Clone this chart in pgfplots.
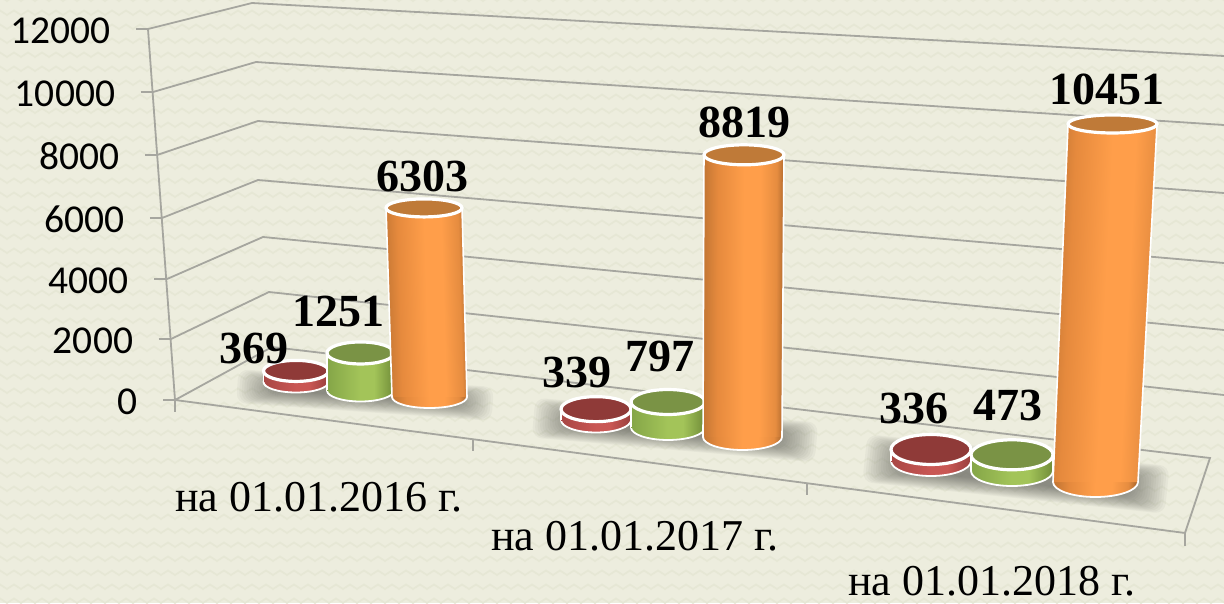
\documentclass[border=0pt]{standalone}
\usepackage{fontspec}
\setmainfont{Liberation Serif}
\newfontfamily\carl{Carlito}
\usepackage{pgfplots}
\pgfplotsset{compat=1.18}
\usetikzlibrary{shapes.geometric}

\definecolor{bgc}{HTML}{EDEDDE}
\definecolor{zig}{HTML}{E6E7D5}
\definecolor{gridc}{HTML}{A6A69F}
\definecolor{orangetop}{HTML}{BF7A38}
\definecolor{greentop}{HTML}{7A9345}
\definecolor{redtop}{HTML}{8F3A38}

\pgfdeclarehorizontalshading{orangecyl}{100bp}{rgb(0bp)=(0.76,0.46,0.20); rgb(25bp)=(0.76,0.46,0.20); rgb(34bp)=(0.90,0.54,0.24); rgb(50bp)=(1.0,0.62,0.29); rgb(60bp)=(1.0,0.62,0.29); rgb(70bp)=(0.90,0.55,0.25); rgb(75bp)=(0.68,0.41,0.18); rgb(100bp)=(0.68,0.41,0.18)}
\pgfdeclarehorizontalshading{greencyl}{100bp}{rgb(0bp)=(0.52,0.65,0.28); rgb(25bp)=(0.52,0.65,0.28); rgb(50bp)=(0.64,0.77,0.35); rgb(60bp)=(0.64,0.77,0.35); rgb(75bp)=(0.44,0.55,0.22); rgb(100bp)=(0.44,0.55,0.22)}
\pgfdeclarehorizontalshading{redcyl}{100bp}{rgb(0bp)=(0.66,0.28,0.27); rgb(25bp)=(0.66,0.28,0.27); rgb(50bp)=(0.79,0.34,0.33); rgb(60bp)=(0.79,0.34,0.33); rgb(75bp)=(0.60,0.25,0.24); rgb(100bp)=(0.60,0.25,0.24)}

\pgfplotsset{cylaxis/.style={hide axis,clip=false,xmin=-60,xmax=60,ymin=0,ymax=12000,disabledatascaling,anchor=origin}}
% one cylinder: X, Y of the base centre (px); skew, scale of the value axis; base rx, top rx, base ry, top ry; value
\def\cname{orange}
\def\cyl#1#2#3#4#5#6#7#8#9{%
\pgfmathsetmacro\ang{-atan(#3/#4)}%
\begin{axis}[cylaxis,at={(#1pt,{603pt-#2pt})},x={(1pt,0pt)},y={(#3pt,#4pt)}]
\addplot[draw=none,mark=none,forget plot,nodes near coords={},
  nodes near coords style={anchor=center,shape=ellipse,inner sep=0pt,
    minimum width={2*#5 pt},minimum height={2*#7 pt},draw=white,line width=1.8pt,
    shade,shading=\cname cyl,shading angle=\ang}] coordinates {(0,0)};
\end{axis}
\begin{axis}[cylaxis,at={(#1pt,{603pt-#2pt})},x={(1pt,0pt)},y={(#3pt,#4pt)}]
\addplot[draw=none,mark=none,forget plot,shade,shading=\cname cyl,shading angle=\ang]
  coordinates {(-#5,0)(-#6,#9)(#6,#9)(#5,0)} -- cycle;
\addplot[white,line width=1.6pt,mark=none,forget plot] coordinates {(-#5,0)(-#6,#9)};
\addplot[white,line width=1.6pt,mark=none,forget plot] coordinates {(#5,0)(#6,#9)};
\addplot[draw=none,mark=none,forget plot,nodes near coords={},
  nodes near coords style={anchor=center,shape=ellipse,inner sep=0pt,
    minimum width={2*#6 pt},minimum height={2*#8 pt},draw=white,line width=3.2pt,
    fill=\cname top}] coordinates {(0,#9)};
\end{axis}}

\pgfplotsset{pixelaxis/.style={at={(0pt,0pt)},anchor=south west,scale only axis,
  width=1224pt,height=603pt,xmin=0,xmax=1224,ymin=0,ymax=603,y dir=reverse,hide axis,clip=false},
  gl/.style={gridc,line width=1.8pt,mark=none,forget plot}}

\begin{document}
\begin{tikzpicture}[x=1pt,y=1pt]
\path[use as bounding box,clip] (0,0) rectangle (1224,603);
\fill[bgc] (0,0) rectangle (1224,603);
\foreach \r in {0,14,...,602}{
  \draw[zig,line width=1.7pt] (-7,\r) \foreach \i in {0,...,88}{ -- ++(7,4.5) -- ++(7,-4.5)};
}
\begin{axis}[pixelaxis]
\addplot[gl] coordinates {(148,29)(252,3)(1224,56)};
\addplot[gl] coordinates {(153,92)(256,62)(1224,125)};
\addplot[gl] coordinates {(157,155)(258,121)(1224,193)};
\addplot[gl] coordinates {(162,218)(258,180)(1224,263)};
\addplot[gl] coordinates {(167,279)(263,237)(1224,330)};
\addplot[gl] coordinates {(171,339)(269,292)(1224,395)};
\addplot[gl] coordinates {(175,400)(272,347)(1210,458)(1185,533)(175,400)};
\addplot[gl] coordinates {(175,400)(175,412)};
\addplot[gl] coordinates {(473,439)(473,451)};
\addplot[gl] coordinates {(807,483)(807,495)};
\addplot[gl] coordinates {(1185,533)(1185,546)};
\end{axis}
% value axis, skewed as in the reference
\begin{axis}[at={(175pt,203pt)},anchor=origin,x={(1pt,0pt)},y={(-0.0728pt,1pt)},
  xmin=0,xmax=1,ymin=0,ymax=371,axis y line=left,axis x line=none,clip=false,
  axis line style={gridc,line width=1.8pt,-},
  ytick={0,61,121,182,245,308,371},yticklabels={0,2000,4000,6000,8000,10000,12000},
  tick style={gridc,line width=1.8pt},tick align=outside,major tick length=12pt,
  yticklabel style={font=\carl\fontsize{39.5}{42}\selectfont,anchor=east,xshift=-22pt,yshift=-1.5pt}]
\addplot[draw=none,forget plot] coordinates {(0,0)};
\end{axis}
% floor shadows
\foreach \cx/\cy/\w/\h/\a in {365/395/128/17/4,675/430/142/20/5,1016/474/152/24/6}{
 \begin{scope}[shift={(\cx,603-\cy)},rotate=-\a]
 \foreach \i in {0,...,17}{
  \fill[black!70!bgc,opacity=.045,rounded corners=10] ({-\w+\i*2.4},{-\h+\i*0.9}) rectangle ({\w-\i*2.4},{\h-\i*0.9});
 }
 \end{scope}
}
% 01.01.2016
\def\cname{red}\cyl{296}{382}{0}{0.030}{32.5}{32.5}{10.5}{10.5}{369}
\def\cname{green}\cyl{360.5}{390.5}{0}{0.030}{33.5}{33.5}{11}{11}{1251}
\def\cname{orange}\cyl{429.5}{397}{-0.00087}{0.030}{37.5}{38}{11}{9}{6303}
% 01.01.2017
\def\cname{red}\cyl{596}{420}{0}{0.032}{35}{35}{12.5}{12.5}{339}
\def\cname{green}\cyl{668}{427.5}{0}{0.032}{37}{37}{12.5}{12.5}{797}
\def\cname{orange}\cyl{742.5}{437}{0.00017}{0.032}{39.5}{40}{13}{10}{8819}
% 01.01.2018
\def\cname{red}\cyl{931}{461}{0}{0.0343}{40}{40}{15}{15}{336}
\def\cname{green}\cyl{1012}{471}{0}{0.0343}{41}{41}{15}{15}{473}
\def\cname{orange}\cyl{1095.5}{482}{0.00163}{0.03426}{42.5}{44.5}{15}{9}{10451}
% texts
\begin{axis}[pixelaxis]
\pgfplotsset{every node/.append style={inner sep=0pt}}
\addplot[draw=none,forget plot] coordinates {(0,0)};
\foreach \x/\y/\t in {254/348/369,338/311/1251,422/176/6303,577/372/339,660/356/797,744/122/8819,914/408/336,1008/405/473,1107/89/10451}{
 \edef\tmp{\noexpand\node[font=\noexpand\bfseries\noexpand\fontsize{46}{48}\noexpand\selectfont] at (axis cs:\x,\y) {\t};}\tmp
}
\foreach \x/\y/\t in {319/497/на 01.01.2016 г.,635/536/на 01.01.2017 г.,992/581/на 01.01.2018 г.}{
 \edef\tmp{\noexpand\node[font=\noexpand\fontsize{44}{46}\noexpand\selectfont] at (axis cs:\x,\y) {\t};}\tmp
}
\end{axis}
\end{tikzpicture}
\end{document}
